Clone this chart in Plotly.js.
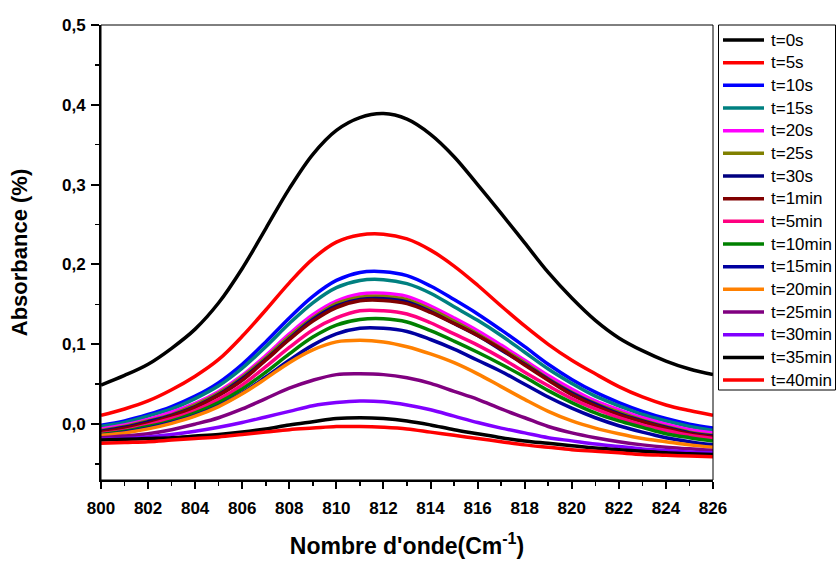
<!DOCTYPE html>
<html>
<head>
<meta charset="utf-8">
<script src="https://cdn.plot.ly/plotly-3.0.1.min.js"></script>
<style>html,body{margin:0;padding:0;background:#fff;}#chart{width:837px;height:561px;}</style>
</head>
<body>
<div id="chart"></div>
<script>
// Wavenumber (cm^-1)
const wavenumber = [800,801,802,803,804,805,806,807,808,809,810,811,812,813,814,815,816,817,818,819,820,821,822,823,824,825,826];

const seriesNames = ["t=0s","t=5s","t=10s","t=15s","t=20s","t=25s","t=30s","t=1min","t=5min","t=10min","t=15min","t=20min","t=25min","t=30min","t=35min","t=40min"];
const seriesColors = ["#000000","#FF0000","#0000FF","#008080","#FF00FF","#808000","#000080","#800000","#FF0080","#008000","#0000A0","#FF8000","#800080","#8000FF","#000000","#FF0000"];

const t0s   = [0.049,0.061,0.075,0.095,0.119,0.152,0.195,0.245,0.295,0.338,0.368,0.384,0.389,0.382,0.363,0.335,0.300,0.264,0.227,0.190,0.158,0.130,0.108,0.092,0.079,0.069,0.062];
const t5s   = [0.011,0.019,0.029,0.043,0.060,0.081,0.110,0.143,0.177,0.207,0.228,0.237,0.238,0.232,0.218,0.198,0.174,0.148,0.123,0.100,0.080,0.063,0.047,0.034,0.024,0.017,0.011];
const t10s  = [-0.0015,0.004,0.012,0.022,0.035,0.052,0.075,0.103,0.133,0.160,0.180,0.190,0.191,0.186,0.173,0.156,0.138,0.118,0.097,0.075,0.056,0.040,0.027,0.016,0.007,0.000,-0.005];
const t15s  = [-0.003,0.002,0.010,0.019,0.032,0.048,0.070,0.097,0.126,0.152,0.171,0.180,0.181,0.176,0.164,0.147,0.130,0.111,0.090,0.069,0.051,0.035,0.023,0.012,0.004,-0.003,-0.008];
const t20s  = [-0.006,-0.001,0.006,0.015,0.026,0.041,0.061,0.086,0.113,0.137,0.154,0.163,0.164,0.160,0.148,0.133,0.117,0.099,0.080,0.061,0.044,0.029,0.018,0.008,0.000,-0.007,-0.011];
const t25s  = [-0.008,-0.003,0.004,0.012,0.024,0.039,0.059,0.083,0.110,0.133,0.151,0.159,0.160,0.156,0.144,0.129,0.113,0.095,0.077,0.057,0.040,0.026,0.015,0.005,-0.003,-0.010,-0.014];
const t30s  = [-0.009,-0.004,0.003,0.011,0.022,0.037,0.057,0.081,0.107,0.131,0.148,0.156,0.157,0.153,0.141,0.126,0.111,0.093,0.075,0.056,0.039,0.025,0.013,0.004,-0.004,-0.011,-0.015];
const t1min = [-0.010,-0.005,0.001,0.010,0.021,0.036,0.055,0.080,0.106,0.129,0.146,0.1545,0.155,0.151,0.140,0.126,0.111,0.094,0.074,0.055,0.037,0.023,0.012,0.003,-0.005,-0.012,-0.016];
const t5min = [-0.012,-0.008,-0.001,0.007,0.017,0.031,0.049,0.072,0.096,0.118,0.133,0.142,0.142,0.138,0.127,0.113,0.099,0.083,0.065,0.048,0.032,0.019,0.008,-0.001,-0.008,-0.014,-0.018];
const t10min= [-0.013,-0.009,-0.003,0.004,0.014,0.027,0.044,0.065,0.088,0.109,0.124,0.131,0.132,0.128,0.117,0.104,0.090,0.075,0.059,0.042,0.027,0.014,0.004,-0.004,-0.012,-0.017,-0.021];
const t15min= [-0.014,-0.010,-0.005,0.002,0.011,0.023,0.039,0.059,0.080,0.099,0.113,0.120,0.120,0.116,0.106,0.094,0.080,0.066,0.050,0.034,0.020,0.008,-0.002,-0.010,-0.017,-0.022,-0.026];
const t20min= [-0.014,-0.011,-0.006,0.001,0.010,0.022,0.038,0.057,0.077,0.093,0.103,0.105,0.103,0.097,0.088,0.077,0.063,0.047,0.031,0.016,0.004,-0.005,-0.012,-0.018,-0.022,-0.026,-0.029];
const t25min= [-0.017,-0.015,-0.012,-0.007,0.000,0.008,0.019,0.032,0.045,0.055,0.062,0.063,0.062,0.058,0.051,0.041,0.031,0.019,0.008,-0.003,-0.011,-0.017,-0.022,-0.026,-0.029,-0.031,-0.033];
const t30min= [-0.019,-0.018,-0.016,-0.013,-0.009,-0.004,0.002,0.009,0.016,0.023,0.027,0.029,0.028,0.024,0.018,0.010,0.002,-0.005,-0.011,-0.017,-0.021,-0.025,-0.028,-0.031,-0.033,-0.035,-0.036];
const t35min= [-0.020,-0.019,-0.018,-0.017,-0.015,-0.013,-0.010,-0.006,-0.001,0.003,0.007,0.008,0.007,0.004,-0.001,-0.007,-0.012,-0.017,-0.021,-0.024,-0.027,-0.030,-0.032,-0.034,-0.036,-0.037,-0.038];
const t40min= [-0.024,-0.023,-0.022,-0.020,-0.018,-0.016,-0.013,-0.010,-0.007,-0.005,-0.003,-0.003,-0.004,-0.006,-0.010,-0.014,-0.018,-0.022,-0.026,-0.029,-0.032,-0.034,-0.036,-0.038,-0.039,-0.040,-0.041];

const seriesValues = [t0s,t5s,t10s,t15s,t20s,t25s,t30s,t1min,t5min,t10min,t15min,t20min,t25min,t30min,t35min,t40min];

const xTickVals = [800,802,804,806,808,810,812,814,816,818,820,822,824,826];
const yTickVals = [0.0,0.1,0.2,0.3,0.4,0.5];
const yTickText = ["0,0","0,1","0,2","0,3","0,4","0,5"];

const traces = seriesValues.map((vals, i) => ({
  type: 'scatter', mode: 'lines',
  x: wavenumber, y: vals,
  name: seriesNames[i],
  showlegend: false,
  line: {color: seriesColors[i], width: 3.5, shape: 'spline', smoothing: 1}
}));

const FONT = 'Arial, "Liberation Sans", sans-serif';

// plot area geometry (pixels) used to place the hand-drawn legend
const W = 837, H = 561, ML = 101, MR = 124, MT = 25, MB = 81;
const PW = W - ML - MR, PH = H - MT - MB;
const px = v => (v - ML) / PW;
const py = v => (H - MB - v) / PH;

const shapes = [
  {type: 'rect', xref: 'paper', yref: 'paper', x0: 0, x1: 1, y0: 0, y1: 1, line: {color: '#000', width: 1}, layer: 'above'},
  {type: 'rect', xref: 'paper', yref: 'paper', x0: px(718.5), x1: px(835.5), y0: py(25), y1: py(390), line: {color: '#000', width: 1}, fillcolor: '#fff', layer: 'above'}
];
const annotations = [];
seriesNames.forEach((nm, i) => {
  const yc = 40 + i * 22.67;
  shapes.push({type: 'line', xref: 'paper', yref: 'paper', x0: px(723), x1: px(764), y0: py(yc), y1: py(yc),
    line: {color: seriesColors[i], width: 3.5}, layer: 'above'});
  annotations.push({xref: 'paper', yref: 'paper', x: px(769), y: py(yc), xanchor: 'left', yanchor: 'middle',
    text: nm, showarrow: false, font: {family: FONT, size: 17, color: '#000'}});
});

const layout = {
  width: W, height: H,
  margin: {l: ML, r: MR, t: MT, b: MB},
  paper_bgcolor: '#fff', plot_bgcolor: '#fff',
  showlegend: false,
  font: {family: FONT, color: '#000'},
  xaxis: {
    range: [800, 826], showgrid: false, zeroline: false,
    showline: true, linecolor: '#000', linewidth: 2,
    ticks: 'outside', ticklen: 7, tickwidth: 2, tickcolor: '#000',
    tickvals: xTickVals, ticklabelstandoff: 5,
    tickfont: {family: FONT, size: 17, weight: 'bold', color: '#000'},
    minor: {dtick: 1, ticks: 'outside', ticklen: 4, tickwidth: 1.5, tickcolor: '#000', showgrid: false},
    title: {text: "Nombre d'onde(Cm<sup>-1</sup>)", font: {family: FONT, size: 23, weight: 'bold', color: '#000'}, standoff: 20}
  },
  yaxis: {
    range: [-0.07, 0.5], showgrid: false, zeroline: false,
    showline: true, linecolor: '#000', linewidth: 2,
    ticks: 'outside', ticklen: 8, tickwidth: 2, tickcolor: '#000',
    tickvals: yTickVals, ticktext: yTickText, ticklabelstandoff: 2,
    tickfont: {family: FONT, size: 17, weight: 'bold', color: '#000'},
    minor: {dtick: 0.05, tick0: 0, ticks: 'outside', ticklen: 4, tickwidth: 1.5, tickcolor: '#000', showgrid: false},
    title: {text: 'Absorbance (%)', font: {family: FONT, size: 22, weight: 'bold', color: '#000'}, standoff: 28}
  },
  shapes: shapes,
  annotations: annotations
};

Plotly.newPlot('chart', traces, layout, {displayModeBar: false, staticPlot: true});
</script>
</body>
</html>
